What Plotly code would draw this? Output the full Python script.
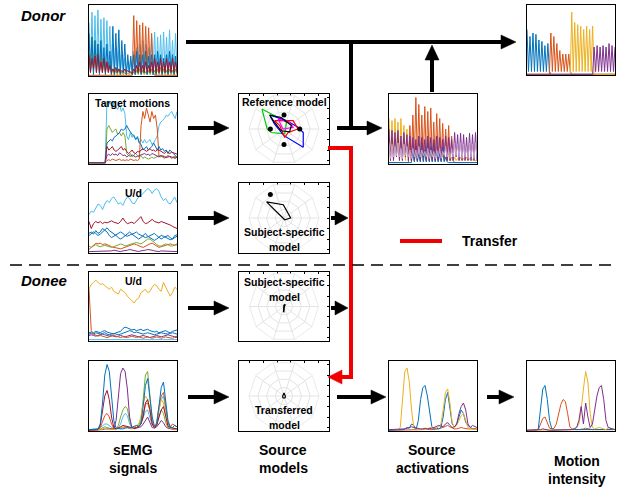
import plotly.graph_objects as go
import numpy as np

W, H = 624, 491
BLUE = '#0072BD'; ORANGE = '#D95319'; YELLOW = '#EDB120'; PURPLE = '#7E2F8E'
GREEN = '#77AC30'; LBLUE = '#4DBEEE'; DRED = '#A2142F'; MAGENTA = '#FF00FF'

# ---------------- DATA ----------------
# Panel 1: donor sEMG signals
P1_LBLUE = [0.75,0.1,0.9,0.05,0.85,0.1,0.93,0.05,0.8,0.1,0.82,0.05,0.78,0.1,0.7,0.05,
            0.45,0.05,0.4,0.05,0.35,0.05,0.3,0.05,0.25,0.05,0.2,0.05,0.22,0.05,
            0.35,0.05,0.4,0.05,0.45,0.05,0.5,0.05,0.45,0.05,0.4,0.05,0.55,0.05,
            0.62,0.05,0.55,0.05,0.58,0.05,0.62,0.05,0.55,0.05,0.65,0.05,0.5,0.05,0.6,0.1]
P1_GREEN = [0.3,0.05,0.55,0.05,0.5,0.05,0.45,0.05,0.3,0.05,0.25,0.05,0.2,0.05,0.2,0.02,
            0.1,0.02,0.08,0.02,0.1,0.02,0.06,0.02,0.05,0.02,0.04,0.02,0.05,0.02,
            0.06,0.02,0.08,0.02,0.1,0.02,0.08,0.02,0.06,0.02,0.08,0.02,0.1,0.02,
            0.08,0.02,0.1,0.02,0.12,0.02,0.1,0.02,0.08,0.02,0.1,0.02,0.08,0.02,0.1,0.02]
P1_ORANGE = [0.01]*30 + [0.85,0.05,0.78,0.05,0.72,0.05,0.75,0.05,0.7,0.1,0.68,0.05,0.6,0.05] + [0.01]*16
P1_BLUE = [0.6,0.05,0.55,0.02,0.5,0.05,0.45,0.02,0.5,0.05,0.4,0.02,0.45,0.05,0.35,0.02,
           0.7,0.02,0.6,0.05,0.65,0.02,0.5,0.05,0.45,0.02,0.3,0.05,0.28,0.02,
           0.3,0.02,0.35,0.05,0.3,0.02,0.3,0.05,0.35,0.02,0.28,0.05,0.3,0.02,
           0.3,0.02,0.35,0.05,0.3,0.02,0.25,0.05,0.3,0.02,0.35,0.05,0.3,0.02,0.28,0.05]
P1_DRED = [0.3,0.05,0.25,0.1,0.28,0.05,0.3,0.05,0.2,0.05,0.25,0.05,0.2,0.05,0.15,0.05,
           0.1,0.05,0.12,0.05,0.1,0.05,0.08,0.05,0.1,0.05,0.08,0.05,0.06,0.03,
           0.1,0.05,0.15,0.05,0.2,0.05,0.15,0.05,0.2,0.05,0.15,0.05,0.2,0.05,
           0.25,0.05,0.2,0.05,0.25,0.05,0.2,0.05,0.25,0.05,0.2,0.05,0.25,0.05,0.2,0.05]

# Panel 2: target motions
P2_LBLUE = [0.01]*10 + [0.9,0.85,0.88,0.8,0.9,0.82,0.78,0.85,0.75,0.8,0.72,
            0.4,0.35,0.45,0.38,0.42,0.35,0.4,0.3,0.35,
            0.3,0.35,0.3,0.32,0.35,0.28,0.3,0.35,0.4,
            0.55,0.6,0.62,0.65,0.7,0.68,0.72,0.75,0.7,0.65,0.75]
P2_GREEN = [0.01]*10 + [0.5,0.55,0.5,0.45,0.48,0.5,0.42,0.45,0.4,0.45,0.4,
            0.15,0.12,0.15,0.1,0.12,0.15,0.12,0.1,0.12,
            0.08,0.1,0.08,0.07,0.08,0.1,0.08,0.09,0.1,
            0.12,0.1,0.12,0.11,0.1,0.12,0.1,0.09,0.1,0.11,0.1]
P2_BLUE = [0.02]*10 + [0.3,0.32,0.35,0.33,0.38,0.4,0.42,0.45,0.5,0.48,0.5,
           0.55,0.5,0.45,0.42,0.4,0.35,0.38,0.3,0.28,
           0.2,0.22,0.25,0.2,0.22,0.25,0.3,0.25,0.2,
           0.25,0.2,0.22,0.18,0.2,0.15,0.2,0.18,0.15,0.12,0.1]
P2_ORANGE = [0.02]*10 + [0.05,0.06,0.05,0.07,0.06,0.05,0.06,0.07,0.05,0.06,0.05,
             0.06,0.05,0.07,0.06,0.05,0.06,0.05,0.07,0.55,
             0.75,0.65,0.8,0.7,0.6,0.75,0.65,0.7,0.5,
             0.1,0.12,0.1,0.08,0.1,0.12,0.1,0.08,0.1,0.09,0.1]
P2_DRED = [0.02]*10 + [0.25,0.2,0.22,0.25,0.2,0.18,0.2,0.22,0.25,0.2,0.22,
           0.18,0.15,0.17,0.2,0.16,0.15,0.18,0.17,0.2,
           0.22,0.2,0.18,0.2,0.22,0.19,0.2,0.18,0.2,
           0.2,0.18,0.17,0.15,0.18,0.16,0.15,0.17,0.16,0.15,0.14]
P2_PURPLE = [0.02]*10 + [0.12,0.14,0.12,0.15,0.13,0.14,0.12,0.16,0.14,0.12,0.13,
             0.1,0.12,0.11,0.13,0.12,0.1,0.11,0.12,0.13,
             0.14,0.15,0.13,0.14,0.12,0.15,0.14,0.13,0.12,
             0.1,0.12,0.11,0.1,0.09,0.1,0.11,0.1,0.09,0.08,0.1]

# Panel 3: reference model (polygons, x/y in model units)
P3_DOTS_X = [0.0, -0.39, 0.45, 0.0]
P3_DOTS_Y = [0.4, 0.0, 0.0, -0.44]
P3_GREEN_X = [-0.63,-0.17,0.07,0.02,-0.37,-0.48,-0.63]
P3_GREEN_Y = [0.57,0.33,0.19,-0.14,-0.10,0.0,0.57]
P3_BLUE_X = [-0.41,0.07,0.40,0.55,0.55,0.0,-0.27,-0.41]
P3_BLUE_Y = [0.40,0.24,0.05,-0.10,-0.52,-0.19,0.14,0.40]
P3_BLACK_X = [-0.41,-0.08,0.21,0.16,-0.08,-0.27,-0.41]
P3_BLACK_Y = [0.40,0.33,0.10,-0.08,-0.05,0.19,0.40]
P3_RED_X = [-0.27,0.26,0.40,0.12,0.02,-0.12,-0.27]
P3_RED_Y = [0.24,0.24,0.0,-0.10,-0.24,0.10,0.24]
P3_MAG_X = [-0.17,0.16,0.26,-0.03,-0.17]
P3_MAG_Y = [0.29,0.19,0.05,0.0,0.29]

# Panel 4: mixed source activations (donor)
P4_YELLOW = [0.65,0.05,0.62,0.05,0.65,0.1,0.6,0.05,0.65,0.05,0.55,0.05,0.5,0.05,0.45,0.05,
             0.3,0.05,0.25,0.05,0.3,0.05,0.2,0.05,0.25,0.05,0.2,0.05,0.15,0.05,0.2,0.05,
             0.25,0.05,0.2,0.05,0.15,0.05,0.1,0.05,0.15,0.05,0.1,0.05,0.1,0.05,0.08,0.05,
             0.1,0.05,0.08,0.05,0.1,0.05,0.08,0.05,0.06,0.05,0.05,0.05]
P4_ORANGE = [0.02]*14 + [0.55,0.05,0.7,0.05,0.95,0.05,0.85,0.05,0.7,0.05,0.82,0.05,0.75,0.05,0.8,0.05,
             0.6,0.05,0.72,0.05,0.65,0.05,0.58,0.05,0.5,0.05,0.55,0.05,0.4,0.05] + [0.02]*16
P4_BLUE = [0.02]*16 + [0.2,0.03,0.25,0.03,0.15,0.03,0.3,0.03,0.2,0.03,0.35,0.03,0.25,0.03,0.3,0.03,
           0.2,0.03,0.15,0.03,0.25,0.03,0.1,0.03] + [0.02]*20
P4_PURPLE = [0.5,0.05,0.48,0.05,0.45,0.1,0.48,0.05,0.4,0.05,0.45,0.1,0.42,0.05,0.4,0.05,
             0.38,0.05,0.35,0.05,0.4,0.05,0.38,0.1,0.35,0.05,0.4,0.05,0.38,0.05,0.35,0.05,
             0.4,0.05,0.38,0.05,0.35,0.1,0.4,0.05,0.38,0.05,0.35,0.05,0.45,0.1,0.42,0.05,
             0.44,0.05,0.42,0.05,0.38,0.05,0.44,0.05,0.42,0.05,0.45,0.05]
P4_LPURPLE = [0.3,0.08,0.28,0.1,0.25,0.12,0.3,0.1,0.22,0.08,0.28,0.12,0.25,0.1,0.2,0.08,
              0.22,0.1,0.2,0.08,0.25,0.1,0.2,0.12,0.18,0.1,0.22,0.08,0.2,0.1,0.18,0.08,
              0.2,0.1,0.22,0.08,0.18,0.12,0.25,0.1,0.2,0.08,0.22,0.1,0.3,0.12,0.28,0.1,
              0.3,0.08,0.28,0.1,0.25,0.08,0.3,0.1,0.28,0.08,0.3,0.1]

# Panel 5: donor motion intensity
P5_BLUE = [0.65,0.05,0.55,0.05,0.6,0.05,0.58,0.05,0.5,0.05,0.48,0.05,0.42,0.05,0.45,0.05] + [0.01]*44
P5_ORANGE = [0.01]*16 + [0.6,0.05,0.55,0.05,0.45,0.05,0.35,0.05,0.3,0.05,0.3,0.05,0.3,0.05] + [0.01]*30
P5_YELLOW = [0.01]*30 + [0.9,0.05,0.75,0.05,0.72,0.05,0.7,0.05,0.65,0.05,0.7,0.05,0.65,0.05,0.7] + [0.01]*15
P5_PURPLE = [0.01]*45 + [0.4,0.05,0.42,0.05,0.4,0.05,0.42,0.05,0.4,0.05,0.45,0.05,0.42,0.05,0.4]

# Panel 6: donor U/d
P6_LBLUE = [0.55,0.6,0.58,0.65,0.7,0.68,0.62,0.7,0.75,0.72,0.78,0.8,0.75,0.7,0.72,0.68,0.75,0.8,0.78,0.72,
            0.7,0.75,0.8,0.82,0.85,0.88,0.92,0.9,0.85,0.9,0.92,0.88,0.8,0.75,0.78,0.72,0.7,0.75,0.8,0.72]
P6_DRED = [0.45,0.35,0.42,0.45,0.43,0.45,0.42,0.44,0.43,0.45,0.46,0.44,0.43,0.42,0.45,0.5,0.45,0.42,0.43,0.44,
           0.42,0.45,0.48,0.52,0.45,0.42,0.43,0.46,0.48,0.45,0.44,0.43,0.45,0.44,0.42,0.41,0.4,0.38,0.36,0.35]
P6_BLUE1 = [0.28,0.3,0.27,0.32,0.28,0.3,0.35,0.33,0.3,0.25,0.22,0.24,0.26,0.28,0.3,0.28,0.25,0.24,0.26,0.27,
            0.28,0.3,0.27,0.25,0.24,0.22,0.23,0.25,0.27,0.28,0.25,0.22,0.2,0.22,0.24,0.25,0.22,0.2,0.25,0.26]
P6_BLUE2 = [0.25,0.27,0.3,0.28,0.25,0.27,0.3,0.33,0.36,0.32,0.3,0.28,0.25,0.22,0.2,0.22,0.25,0.28,0.3,0.27,
            0.25,0.22,0.2,0.22,0.25,0.28,0.24,0.22,0.2,0.18,0.2,0.22,0.25,0.24,0.22,0.2,0.19,0.2,0.22,0.24]
P6_GREEN = [0.1,0.08,0.1,0.12,0.1,0.09,0.1,0.11,0.1,0.09,0.08,0.09,0.1,0.12,0.13,0.12,0.1,0.11,0.12,0.13,
            0.14,0.15,0.14,0.13,0.15,0.18,0.2,0.2,0.18,0.15,0.12,0.1,0.1,0.12,0.13,0.12,0.1,0.1,0.12,0.13]
P6_ORANGE = [0.05,0.08,0.12,0.14,0.13,0.14,0.12,0.13,0.12,0.1,0.09,0.08,0.07,0.06,0.06,0.07,0.08,0.09,0.1,0.12,
             0.13,0.12,0.1,0.09,0.08,0.1,0.12,0.13,0.14,0.12,0.1,0.08,0.09,0.1,0.11,0.12,0.13,0.12,0.11,0.12]
P6_PURPLE = [0.02,0.02,0.03,0.02,0.02,0.03,0.03,0.02,0.02,0.02,0.03,0.04,0.03,0.02,0.02,0.03,0.03,0.04,0.05,0.04,
             0.03,0.02,0.02,0.03,0.03,0.04,0.05,0.05,0.04,0.03,0.02,0.02,0.03,0.03,0.02,0.02,0.03,0.03,0.02,0.02]

# Panel 7: donor subject-specific model
P7_DOT_X = [-0.39]
P7_DOT_Y = [0.67]
P7_SHAPE_X = [-0.50,-0.02,0.19,0.02,-0.50]
P7_SHAPE_Y = [0.46,0.38,0.0,-0.05,0.46]

# Panel 8: donee U/d
P8_YELLOW = [0.75,0.82,0.85,0.88,0.85,0.82,0.83,0.8,0.78,0.75,0.78,0.72,0.7,0.68,0.75,0.72,0.7,0.65,0.62,0.58,
             0.55,0.6,0.62,0.7,0.72,0.75,0.7,0.72,0.78,0.82,0.8,0.75,0.72,0.85,0.78,0.72,0.65,0.7,0.78,0.75]
P8_BLUE1 = [0.12,0.13,0.12,0.14,0.13,0.12,0.14,0.15,0.13,0.12,0.11,0.1,0.12,0.13,0.14,0.18,0.2,0.19,0.17,0.16,
            0.17,0.15,0.16,0.17,0.15,0.16,0.17,0.15,0.14,0.13,0.14,0.12,0.13,0.14,0.15,0.13,0.12,0.14,0.15,0.16]
P8_BLUE2 = [0.1,0.11,0.1,0.12,0.11,0.1,0.11,0.12,0.1,0.09,0.1,0.11,0.1,0.09,0.1,0.11,0.12,0.14,0.15,0.14,
            0.12,0.13,0.12,0.11,0.1,0.11,0.12,0.11,0.1,0.09,0.1,0.11,0.12,0.11,0.1,0.1,0.11,0.12,0.11,0.1]
P8_PURPLE = [0.08,0.09,0.08,0.07,0.08,0.09,0.1,0.09,0.08,0.07,0.08,0.07,0.06,0.07,0.08,0.07,0.06,0.07,0.08,0.09,
             0.08,0.07,0.06,0.07,0.08,0.07,0.06,0.05,0.06,0.07,0.08,0.07,0.06,0.07,0.08,0.09,0.08,0.07,0.06,0.07]
P8_ORANGE = [0.75,0.15,0.1,0.08,0.07,0.08,0.07,0.06,0.05,0.06,0.07,0.08,0.07,0.06,0.05,0.06,0.05,0.05,0.06,0.07,
             0.06,0.05,0.06,0.05,0.04,0.05,0.06,0.05,0.04,0.05,0.06,0.05,0.04,0.05,0.06,0.05,0.04,0.04,0.05,0.05]
P8_LBLUE = [0.02,0.02,0.03,0.02,0.02,0.02,0.03,0.02,0.02,0.02,0.02,0.03,0.02,0.02,0.02,0.03,0.02,0.02,0.02,0.02,
            0.03,0.02,0.02,0.02,0.03,0.02,0.02,0.02,0.03,0.02,0.02,0.02,0.02,0.03,0.02,0.02,0.02,0.03,0.02,0.02]

# Panel 9: donee subject-specific model
P9_SHAPE_X = [-0.01,0.0,0.04,0.01,-0.01]
P9_SHAPE_Y = [-0.17,0.03,0.06,0.02,-0.17]

# Panel 10: donee sEMG signals
P10_LBLUE = [0.02,0.02,0.02,0.02,0.03,0.05,0.08,0.1,0.1,0.08,0.05,0.03,0.03,0.05,0.1,0.2,0.25,0.22,0.1,0.05,
             0.04,0.05,0.06,0.1,0.2,0.28,0.3,0.2,0.08,0.05,0.1,0.3,0.45,0.5,0.3,0.1,0.05,0.04,0.03,0.03]
P10_GREEN = [0.01,0.01,0.01,0.01,0.02,0.03,0.05,0.06,0.05,0.04,0.03,0.02,0.03,0.08,0.2,0.3,0.35,0.32,0.15,0.05,
             0.04,0.05,0.08,0.15,0.45,0.8,0.85,0.55,0.15,0.05,0.08,0.2,0.3,0.25,0.12,0.05,0.04,0.03,0.03,0.02]
P10_PURPLE = [0.01,0.01,0.01,0.01,0.01,0.02,0.02,0.03,0.03,0.02,0.02,0.03,0.15,0.5,0.82,0.9,0.85,0.6,0.2,0.05,
              0.03,0.04,0.05,0.06,0.1,0.15,0.2,0.12,0.05,0.04,0.06,0.1,0.15,0.12,0.06,0.04,0.03,0.03,0.02,0.02]
P10_ORANGE = [0.01,0.01,0.01,0.01,0.02,0.05,0.15,0.22,0.25,0.2,0.1,0.04,0.03,0.03,0.04,0.05,0.06,0.05,0.04,0.04,
              0.04,0.05,0.06,0.1,0.25,0.38,0.4,0.3,0.1,0.05,0.12,0.35,0.5,0.55,0.35,0.12,0.06,0.1,0.08,0.06]
P10_YELLOW = [0.01,0.01,0.01,0.01,0.01,0.02,0.03,0.04,0.03,0.02,0.02,0.02,0.03,0.04,0.05,0.06,0.05,0.04,0.03,0.03,
              0.05,0.08,0.1,0.2,0.4,0.5,0.45,0.3,0.1,0.05,0.1,0.3,0.45,0.4,0.2,0.06,0.04,0.03,0.03,0.02]
P10_DRED = [0.01,0.01,0.01,0.01,0.02,0.08,0.3,0.5,0.58,0.45,0.2,0.05,0.03,0.04,0.06,0.08,0.07,0.06,0.05,0.04,
            0.04,0.05,0.06,0.1,0.2,0.4,0.45,0.3,0.1,0.05,0.08,0.2,0.3,0.35,0.2,0.07,0.05,0.04,0.04,0.03]
P10_BLUE = [0.02,0.02,0.02,0.02,0.03,0.1,0.4,0.8,0.95,0.85,0.5,0.15,0.04,0.03,0.03,0.03,0.04,0.05,0.04,0.05,
            0.06,0.08,0.07,0.1,0.35,0.65,0.75,0.5,0.2,0.07,0.1,0.35,0.62,0.7,0.45,0.15,0.06,0.05,0.08,0.06]

# Panel 11: transferred model
P11_SHAPE_X = [0.0,0.04,0.03,0.0,-0.03,-0.04,0.0]
P11_SHAPE_Y = [0.09,-0.01,-0.05,-0.06,-0.05,-0.01,0.09]

# Panel 12: donee source activations
P12_ORANGE = [0.01,0.01,0.01,0.01,0.01,0.01,0.02,0.02,0.02,0.02,0.02,0.02,0.02,0.02,0.02,0.02,0.03,0.02,0.02,0.02,
              0.02,0.03,0.03,0.04,0.05,0.06,0.08,0.06,0.04,0.03,0.03,0.04,0.05,0.04,0.03,0.03,0.03,0.03,0.03,0.03]
P12_BLUE = [0.01,0.01,0.01,0.01,0.01,0.01,0.02,0.03,0.05,0.04,0.1,0.08,0.02,0.15,0.45,0.62,0.65,0.5,0.25,0.06,
            0.03,0.04,0.03,0.05,0.2,0.45,0.55,0.35,0.1,0.06,0.1,0.2,0.3,0.25,0.12,0.08,0.05,0.03,0.03,0.02]
P12_YELLOW = [0.02,0.02,0.02,0.02,0.02,0.05,0.4,0.85,0.9,0.7,0.3,0.05,0.02,0.02,0.02,0.03,0.02,0.03,0.05,0.04,
              0.05,0.04,0.06,0.1,0.3,0.55,0.6,0.4,0.12,0.05,0.08,0.15,0.22,0.25,0.15,0.05,0.03,0.03,0.02,0.02]
P12_PURPLE = [0.02,0.02,0.02,0.02,0.02,0.02,0.03,0.03,0.04,0.05,0.06,0.05,0.04,0.03,0.03,0.03,0.04,0.03,0.03,0.04,
              0.05,0.06,0.08,0.07,0.06,0.1,0.12,0.08,0.05,0.06,0.1,0.25,0.35,0.4,0.3,0.1,0.05,0.08,0.06,0.05]

# Panel 13: donee motion intensity
P13_ORANGE = [0.01,0.01,0.01,0.01,0.01,0.02,0.1,0.18,0.2,0.12,0.04,0.03,0.04,0.1,0.25,0.38,0.45,0.42,0.25,0.06,
              0.03,0.02,0.02,0.02,0.02,0.03,0.04,0.03,0.02,0.02,0.02,0.02,0.03,0.03,0.02,0.02,0.02,0.02,0.02,0.02]
P13_BLUE = [0.01,0.01,0.01,0.01,0.01,0.03,0.3,0.6,0.65,0.45,0.15,0.03,0.02,0.02,0.02,0.02,0.02,0.02,0.02,0.02,
            0.02,0.02,0.02,0.02,0.02,0.02,0.03,0.02,0.02,0.02,0.02,0.02,0.02,0.02,0.02,0.02,0.02,0.02,0.02,0.02]
P13_YELLOW = [0.01,0.01,0.01,0.01,0.01,0.01,0.01,0.02,0.02,0.02,0.01,0.01,0.01,0.01,0.01,0.01,0.02,0.02,0.02,0.02,
              0.03,0.04,0.05,0.1,0.3,0.6,0.85,0.7,0.25,0.05,0.03,0.04,0.05,0.04,0.03,0.02,0.05,0.04,0.03,0.02]
P13_PURPLE = [0.01,0.01,0.01,0.01,0.01,0.01,0.02,0.03,0.02,0.02,0.01,0.01,0.01,0.01,0.02,0.02,0.02,0.02,0.02,0.02,
              0.02,0.03,0.05,0.15,0.35,0.1,0.4,0.2,0.05,0.1,0.3,0.5,0.62,0.65,0.45,0.15,0.05,0.04,0.03,0.02]

SPOKES = ['a','b','c','d','e','f','g','h','i','j']

# ---------------- LAYOUT HELPERS ----------------
def px_x(v): return v / W
def px_y(v): return 1 - v / H

# panel boxes in pixels: (x0, x1, ytop, ybottom)
BOX = {
    1: (89, 177, 5, 76), 2: (89, 177, 94, 164), 3: (239, 329, 94, 164), 4: (389, 477, 94, 164),
    5: (527, 615, 5, 75), 6: (89, 177, 183, 253), 7: (239, 329, 183, 253), 8: (89, 177, 272, 341),
    9: (239, 329, 272, 341), 10: (89, 177, 361, 431), 11: (239, 329, 361, 431),
    12: (389, 477, 361, 431), 13: (527, 615, 361, 431),
}
MODEL_PANELS = [3, 7, 9, 11]

fig = go.Figure()
layout = dict(width=W, height=H, margin=dict(l=0, r=0, t=0, b=0), showlegend=False,
              paper_bgcolor='white', plot_bgcolor='rgba(0,0,0,0)')

for i, (x0, x1, yt, yb) in BOX.items():
    sx = '' if i == 1 else str(i)
    xa = dict(domain=[px_x(x0), px_x(x1)], anchor='y' + sx, showgrid=False, zeroline=False,
              showline=True, mirror=True, linecolor='black', linewidth=1, showticklabels=False, ticks='')
    ya = dict(domain=[px_y(yb), px_y(yt)], anchor='x' + sx, showgrid=False, zeroline=False,
              showline=True, mirror=True, linecolor='black', linewidth=1, showticklabels=False, ticks='')
    if i in MODEL_PANELS:
        xa.update(range=[-1.29, 1.29], ticks='inside', ticklen=2, side='top', tickcolor='black',
                  tickvals=[-1, -0.6, -0.2, 0.2, 0.6, 1.0])
        ya.update(range=[-1, 1], ticks='inside', ticklen=2, side='right', tickcolor='black',
                  tickvals=[-0.9, -0.6, -0.3, 0, 0.3, 0.6, 0.9])
        # invisible anchor trace so that the framed cartesian box is drawn
        fig.add_trace(go.Scatter(x=[0], y=[0], mode='markers', marker=dict(size=1, opacity=0),
                                 xaxis='x' + sx, yaxis='y' + sx, hoverinfo='skip'))
    else:
        xa.update(range=[0, 100])
        ya.update(range=[0, 1.0])
    layout['xaxis' + sx] = xa
    layout['yaxis' + sx] = ya

# polar grids (first 4 polar subplots) and polar data overlays (next 4) for model panels
GRID = '#e4e4e4'
DATA_POLAR = {}
n_models = len(MODEL_PANELS)
for k, i in enumerate(MODEL_PANELS):
    x0, x1, yt, yb = BOX[i]
    cx = (x0 + x1) / 2
    r = (yb - yt) / 2
    dom = dict(x=[px_x(cx - r), px_x(cx + r)], y=[px_y(yb), px_y(yt)])
    gname = 'polar' if k == 0 else 'polar' + str(k + 1)
    dname = 'polar' + str(k + 1 + n_models)
    DATA_POLAR[i] = dname
    layout[gname] = dict(
        domain=dom, bgcolor='rgba(0,0,0,0)', gridshape='linear',
        radialaxis=dict(range=[0, 1], showticklabels=False, ticks='', showline=False,
                        gridcolor=GRID, gridwidth=0.8, tickvals=[0.25, 0.5, 0.75]),
        angularaxis=dict(type='category', showticklabels=False, ticks='', showline=True,
                         linecolor=GRID, linewidth=0.8, gridcolor=GRID, gridwidth=0.8))
    layout[dname] = dict(
        domain=dom, bgcolor='rgba(0,0,0,0)',
        radialaxis=dict(range=[0, 1], visible=False),
        angularaxis=dict(visible=False, rotation=0, direction='counterclockwise'))
    fig.add_trace(go.Scatterpolar(r=[0] * len(SPOKES), theta=SPOKES, subplot=gname, mode='markers',
                                  marker=dict(size=1, opacity=0), hoverinfo='skip'))

def line(panel, vals, color, w=1.0):
    sx = '' if panel == 1 else str(panel)
    fig.add_trace(go.Scatter(x=np.linspace(0, 100, len(vals)), y=vals, mode='lines',
                             line=dict(color=color, width=w), xaxis='x' + sx, yaxis='y' + sx,
                             hoverinfo='skip'))

def to_polar(xs, ys):
    xs = np.asarray(xs, float); ys = np.asarray(ys, float)
    return np.hypot(xs, ys), np.degrees(np.arctan2(ys, xs))

def poly(panel, xs, ys, color, w=1.2):
    rr, tt = to_polar(xs, ys)
    fig.add_trace(go.Scatterpolar(r=rr, theta=tt, mode='lines', line=dict(color=color, width=w),
                                  subplot=DATA_POLAR[panel], hoverinfo='skip'))

def dots(panel, xs, ys):
    rr, tt = to_polar(xs, ys)
    fig.add_trace(go.Scatterpolar(r=rr, theta=tt, mode='markers', marker=dict(color='black', size=5),
                                  subplot=DATA_POLAR[panel], hoverinfo='skip'))

# Panel 1
line(1, P1_LBLUE, LBLUE); line(1, P1_GREEN, GREEN); line(1, P1_ORANGE, ORANGE)
line(1, P1_BLUE, BLUE); line(1, P1_DRED, DRED)
# Panel 2
line(2, P2_LBLUE, LBLUE); line(2, P2_GREEN, GREEN); line(2, P2_ORANGE, ORANGE)
line(2, P2_BLUE, BLUE); line(2, P2_DRED, DRED); line(2, P2_PURPLE, PURPLE)
# Panel 3
poly(3, P3_GREEN_X, P3_GREEN_Y, '#00CC00'); poly(3, P3_BLUE_X, P3_BLUE_Y, '#0000FF')
poly(3, P3_RED_X, P3_RED_Y, '#FF0000'); poly(3, P3_MAG_X, P3_MAG_Y, MAGENTA)
poly(3, P3_BLACK_X, P3_BLACK_Y, 'black'); dots(3, P3_DOTS_X, P3_DOTS_Y)
# Panel 4
line(4, P4_YELLOW, YELLOW); line(4, P4_ORANGE, ORANGE); line(4, P4_BLUE, BLUE)
line(4, P4_PURPLE, PURPLE); line(4, P4_LPURPLE, '#C8A2CF')
# Panel 5
line(5, P5_BLUE, BLUE); line(5, P5_ORANGE, ORANGE); line(5, P5_YELLOW, YELLOW); line(5, P5_PURPLE, PURPLE)
# Panel 6
line(6, P6_PURPLE, PURPLE); line(6, P6_ORANGE, ORANGE); line(6, P6_GREEN, GREEN)
line(6, P6_BLUE2, BLUE); line(6, P6_BLUE1, BLUE); line(6, P6_DRED, DRED); line(6, P6_LBLUE, LBLUE)
# Panel 7
poly(7, P7_SHAPE_X, P7_SHAPE_Y, 'black'); dots(7, P7_DOT_X, P7_DOT_Y)
# Panel 8
line(8, P8_LBLUE, LBLUE); line(8, P8_PURPLE, PURPLE); line(8, P8_BLUE2, BLUE)
line(8, P8_BLUE1, BLUE); line(8, P8_ORANGE, ORANGE); line(8, P8_YELLOW, YELLOW)
# Panel 9
poly(9, P9_SHAPE_X, P9_SHAPE_Y, 'black', 1.5)
# Panel 10
line(10, P10_LBLUE, LBLUE); line(10, P10_GREEN, GREEN); line(10, P10_PURPLE, PURPLE)
line(10, P10_ORANGE, ORANGE); line(10, P10_YELLOW, YELLOW); line(10, P10_DRED, DRED); line(10, P10_BLUE, BLUE)
# Panel 11
poly(11, P11_SHAPE_X, P11_SHAPE_Y, 'black', 1.2)
# Panel 12
line(12, P12_ORANGE, ORANGE); line(12, P12_BLUE, BLUE); line(12, P12_YELLOW, YELLOW); line(12, P12_PURPLE, PURPLE)
# Panel 13
line(13, P13_ORANGE, ORANGE); line(13, P13_BLUE, BLUE); line(13, P13_YELLOW, YELLOW); line(13, P13_PURPLE, PURPLE)

# ---------------- ARROWS / SHAPES ----------------
shapes = []
def seg(x0, y0, x1, y1, color='black', w=4, dash=None):
    ln = dict(color=color, width=w)
    if dash: ln['dash'] = dash
    shapes.append(dict(type='line', xref='paper', yref='paper', x0=px_x(x0), y0=px_y(y0),
                       x1=px_x(x1), y1=px_y(y1), line=ln, layer='above'))

def arrow(x0, y0, x1, y1, color='black', w=4, L=15, hw=7):
    dx, dy = x1 - x0, y1 - y0
    n = (dx * dx + dy * dy) ** 0.5
    ux, uy = dx / n, dy / n
    bx, by = x1 - ux * L, y1 - uy * L
    seg(x0, y0, bx + ux * 2, by + uy * 2, color, w)
    pxn, pyn = -uy, ux
    pts = [(x1, y1), (bx + pxn * hw, by + pyn * hw), (bx - pxn * hw, by - pyn * hw)]
    path = 'M ' + ' L '.join(f'{px_x(a):.5f},{px_y(b):.5f}' for a, b in pts) + ' Z'
    shapes.append(dict(type='path', xref='paper', yref='paper', path=path,
                       fillcolor=color, line=dict(color=color, width=0.5), layer='above'))

RED = '#F00000'
# column 1 -> column 2
for yy in (128, 218, 308, 397):
    arrow(188, yy, 229, yy)
# top horizontal arrow
arrow(186, 42, 516, 42)
# ref model -> mixing
seg(351, 42, 351, 130)
arrow(337, 128, 382, 128)
# mixing -> up
arrow(432, 92, 432, 45)
# subject-specific models -> transfer line
arrow(331, 218, 348, 218, L=13, hw=7)
arrow(331, 308, 348, 308, L=13, hw=7)
# red transfer
seg(328, 148, 353, 148, RED, 4)
seg(351, 146, 351, 379, RED, 4)
arrow(353, 377, 328, 377, RED, 4, L=14, hw=7)
# bottom row
arrow(337, 397, 386, 397)
arrow(487, 397, 514, 397)
# legend
seg(400, 241, 442, 241, RED, 4)
# dashed separator
seg(10, 265, 612, 265, 'black', 1.6, dash='12px,7px')

layout['shapes'] = shapes

# ---------------- TEXT ----------------
FONT = 'Liberation Sans, Arial, sans-serif'
ann = []
def text(x, y, s, size=11, bold=True, italic=False):
    t = s
    if bold: t = '<b>' + t + '</b>'
    if italic: t = '<i>' + t + '</i>'
    ann.append(dict(x=px_x(x), y=px_y(y), xref='paper', yref='paper', text=t, showarrow=False,
                    xanchor='center', yanchor='middle', font=dict(family=FONT, size=size, color='black')))

text(43, 15, 'Donor', 15, True, True)
text(44, 280, 'Donee', 15, True, True)
text(132, 103, 'Target motions', 10.5)
text(284, 102, 'Reference model', 10.5)
text(133, 193, 'U/d', 10.5)
text(284, 232, 'Subject-specific', 10.5)
text(284, 247, 'model', 10.5)
text(133, 281, 'U/d', 10.5)
text(284, 282, 'Subject-specific', 10.5)
text(284, 297, 'model', 10.5)
text(284, 410, 'Transferred', 10.5)
text(284, 425, 'model', 10.5)
text(490, 241, 'Transfer', 14)
text(133, 450, 'sEMG', 14); text(133, 468, 'signals', 14)
text(283, 450, 'Source', 14); text(283, 468, 'models', 14)
text(432, 450, 'Source', 14); text(432, 468, 'activations', 14)
text(577, 461, 'Motion', 14); text(577, 479, 'intensity', 14)
layout['annotations'] = ann

fig.update_layout(**layout)
fig.write_html('out.html')
